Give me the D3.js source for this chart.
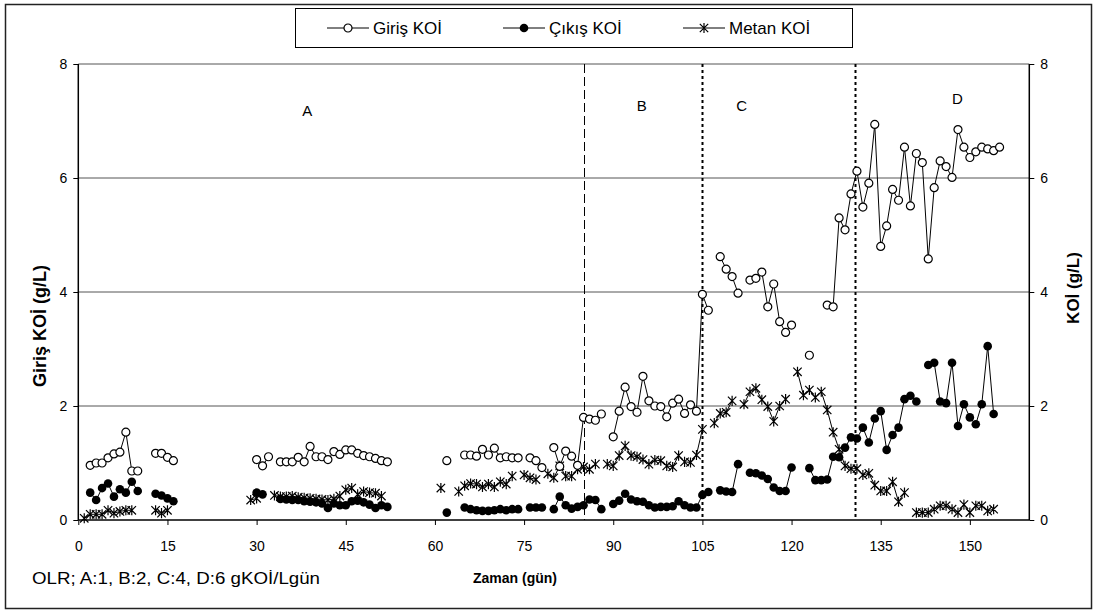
<!DOCTYPE html>
<html>
<head>
<meta charset="utf-8">
<script src="https://cdn.jsdelivr.net/npm/d3@7"></script>
<style>
  body { margin: 0; background: #fff; }
  svg { display: block; font-family: "Liberation Sans", Arial, sans-serif; }
</style>
</head>
<body>
<svg id="chart" width="1097" height="613"></svg>
<script>
// Influent COD per day [day, g/L]
const girisKOI = [
  [2,0.96],[3,1.0],[4,1.0],[5,1.09],[6,1.16],[7,1.19],[8,1.54],[9,0.86],[10,0.86],
  [13,1.17],[14,1.17],[15,1.10],[16,1.04],
  [30,1.06],[31,0.95],[32,1.11],[34,1.02],[35,1.02],[36,1.02],[37,1.10],[38,1.02],[39,1.29],[40,1.11],
  [41,1.11],[42,1.06],[43,1.20],[44,1.15],[45,1.23],[46,1.23],[47,1.17],[48,1.13],[49,1.11],[50,1.08],
  [51,1.04],[52,1.02],
  [62,1.04],[65,1.14],[66,1.14],[67,1.12],[68,1.24],[69,1.14],[70,1.26],[71,1.09],[72,1.11],[73,1.09],
  [74,1.09],[76,1.09],[77,1.04],[78,0.92],[80,1.27],[81,0.94],[82,1.21],[83,1.12],[84,0.96],[85,1.80],
  [86,1.77],[87,1.75],[88,1.86],
  [90,1.46],[91,1.91],[92,2.33],[93,1.99],[94,1.89],[95,2.52],[96,2.09],[97,2.0],[98,1.99],[99,1.81],
  [100,2.05],[101,2.12],[102,1.87],[103,2.02],[104,1.91],[105,3.96],[106,3.68],
  [108,4.62],[109,4.40],[110,4.27],[111,3.98],[113,4.21],[114,4.24],[115,4.35],[116,3.74],[117,4.14],
  [118,3.48],[119,3.29],[120,3.42],
  [123,2.89],[126,3.77],[127,3.74],[128,5.30],[129,5.09],[130,5.72],[131,6.12],[132,5.49],[133,5.91],
  [134,6.94],[135,4.80],[136,5.16],[137,5.80],[138,5.61],[139,6.54],[140,5.51],[141,6.43],[142,6.27],
  [143,4.58],[144,5.83],[145,6.30],[146,6.20],[147,6.01],[148,6.85],[149,6.54],[150,6.36],[151,6.46],
  [152,6.54],[153,6.51],[154,6.48],[155,6.54]
];

// Effluent COD per day [day, g/L]
const cikisKOI = [
  [2,0.48],[3,0.35],[4,0.56],[5,0.64],[6,0.41],[7,0.54],[8,0.48],[9,0.67],[10,0.51],
  [13,0.46],[14,0.43],[15,0.38],[16,0.33],
  [30,0.48],[31,0.45],
  [34,0.37],[35,0.36],[36,0.35],[37,0.35],[38,0.33],[39,0.32],[40,0.31],[41,0.29],[42,0.21],[43,0.29],
  [44,0.26],[45,0.26],[46,0.33],[47,0.34],[48,0.31],[49,0.27],[50,0.21],[51,0.26],[52,0.23],
  [62,0.13],[65,0.22],[66,0.19],[67,0.17],[68,0.16],[69,0.16],[70,0.17],[71,0.19],[72,0.17],[73,0.19],
  [74,0.19],[76,0.22],[77,0.22],[78,0.22],[80,0.19],[81,0.41],[82,0.26],[83,0.20],[84,0.23],[85,0.26],
  [86,0.36],[87,0.35],[88,0.19],
  [90,0.28],[91,0.34],[92,0.46],[93,0.36],[94,0.33],[95,0.32],[96,0.26],[97,0.22],[98,0.23],[99,0.23],
  [100,0.24],[101,0.33],[102,0.26],[103,0.22],[104,0.22],[105,0.44],[106,0.49],
  [108,0.52],[109,0.50],[110,0.49],[111,0.98],[113,0.83],[114,0.82],[115,0.78],[116,0.72],[117,0.57],
  [118,0.51],[119,0.51],[120,0.92],
  [123,0.91],[124,0.70],[125,0.70],[126,0.71],[127,1.11],[128,1.10],[129,1.27],[130,1.45],[131,1.43],
  [132,1.62],[133,1.36],[134,1.78],[135,1.91],[136,1.23],[137,1.49],[138,1.62],[139,2.12],[140,2.18],
  [141,2.08],[143,2.72],[144,2.76],[145,2.08],[146,2.05],[147,2.76],[148,1.65],[149,2.03],[150,1.80],
  [151,1.68],[152,2.03],[153,3.05],[154,1.86]
];

// Methane-equivalent COD per day [day, g/L]
const metanKOI = [
  [1,0.03],[2,0.10],[3,0.10],[4,0.10],[5,0.17],[6,0.12],[7,0.15],[8,0.17],[9,0.17],
  [13,0.17],[14,0.12],[15,0.17],
  [29,0.35],[30,0.38],[33,0.43],[34,0.41],[35,0.41],[36,0.42],[37,0.40],[38,0.39],[39,0.38],[40,0.37],
  [41,0.36],[42,0.35],[43,0.37],[44,0.42],[45,0.53],[46,0.56],[47,0.45],[48,0.50],[49,0.48],[50,0.47],
  [51,0.42],
  [61,0.56],[64,0.50],[65,0.60],[66,0.64],[67,0.63],[68,0.58],[69,0.63],[70,0.58],[71,0.67],[72,0.63],
  [73,0.77],[75,0.79],[76,0.74],[77,0.71],[79,0.81],[80,0.74],[81,0.95],[82,0.77],[83,0.77],[84,0.89],
  [85,0.93],[86,0.89],[87,0.98],[89,0.98],[90,0.95],[91,1.13],[92,1.30],[93,1.13],[94,1.11],[95,1.06],
  [96,0.98],[97,1.05],[98,1.04],[99,0.95],[100,0.93],[101,1.13],[102,1.02],[103,1.01],[104,1.14],
  [105,1.59],[107,1.70],[108,1.87],[109,1.89],[110,2.09],[112,2.03],[113,2.25],[114,2.31],[115,2.11],
  [116,1.99],[117,1.73],[118,2.0],[119,2.12],[121,2.60],[122,2.19],[123,2.28],[124,2.15],[125,2.25],
  [126,1.93],[127,1.54],[128,1.24],[129,0.95],[130,0.90],[131,0.90],[132,0.79],[133,0.82],[134,0.61],
  [135,0.51],[136,0.51],[137,0.67],[138,0.32],[139,0.48],[141,0.13],[142,0.13],[143,0.13],[144,0.19],
  [145,0.25],[146,0.25],[147,0.19],[148,0.13],[149,0.27],[150,0.13],[151,0.25],[152,0.25],[153,0.16],
  [154,0.19]
];

const xTicks = [0, 15, 30, 45, 60, 75, 90, 105, 120, 135, 150];
const yTicks = [0, 2, 4, 6, 8];
const periodBounds = [85, 105, 130.6];          // day where each loading period starts
const periodLabels = [["A", 38.5, 7.18], ["B", 94.8, 7.27], ["C", 111.6, 7.27], ["D", 147.9, 7.39]];
const seriesNames = ["Giriş KOİ", "Çıkış KOİ", "Metan KOİ"];

const svg = d3.select("#chart");

const x = d3.scaleLinear().domain([0, 160]).range([78.3, 1029.3]);
const y = d3.scaleLinear().domain([0, 8]).range([520, 64]);

// outer frame
svg.append("rect").attr("x", 5.5).attr("y", 4.5).attr("width", 1086).attr("height", 604)
  .attr("fill", "none").attr("stroke", "#222").attr("stroke-width", 1.5);

// horizontal gridlines
svg.append("g").selectAll("line").data(yTicks.filter(d => d > 0)).join("line")
  .attr("x1", x(0)).attr("x2", x(160))
  .attr("y1", d => y(d)).attr("y2", d => y(d))
  .attr("stroke", "#555").attr("stroke-width", 1);

// period separators
svg.append("g").selectAll("line").data(periodBounds).join("line")
  .attr("x1", d => Math.round(x(d)) + 0.5).attr("x2", d => Math.round(x(d)) + 0.5)
  .attr("y1", y(8)).attr("y2", y(0))
  .attr("stroke", "#000")
  .attr("stroke-width", (d, i) => i === 0 ? 1 : 2)
  .attr("stroke-dasharray", (d, i) => i === 0 ? "9,4" : "3,3");

// axes
const fontSize = 14;
const gLeft = svg.append("g").attr("transform", `translate(${x(0)},0)`)
  .call(d3.axisLeft(y).tickValues(yTicks).tickSize(5).tickPadding(6).tickFormat(d3.format("d")));
const gRight = svg.append("g").attr("transform", `translate(${x(160)},0)`)
  .call(d3.axisRight(y).tickValues(yTicks).tickSize(5).tickPadding(6).tickFormat(d3.format("d")));
const gBottom = svg.append("g").attr("transform", `translate(0,${y(0)})`)
  .call(d3.axisBottom(x).tickValues(xTicks).tickSize(5).tickPadding(16).tickFormat(d3.format("d")));
[gLeft, gRight, gBottom].forEach(g => {
  g.selectAll("path.domain").attr("stroke", "#000").attr("stroke-width", 1.5);
  g.selectAll(".tick line").attr("stroke", "#000");
  g.selectAll(".tick text").attr("font-size", fontSize).attr("font-family", "Liberation Sans, Arial, sans-serif").attr("fill", "#000");
});
gLeft.select("path.domain").attr("d", `M0,${y(0)}V${y(8)}`);
gRight.select("path.domain").attr("d", `M0,${y(0)}V${y(8)}`);
gBottom.select("path.domain").attr("d", `M${x(0)},0H${x(160)}`);

// line generator that breaks wherever a day is missing
function segments(data) {
  const out = [];
  let cur = [];
  data.forEach((p, i) => {
    if (i > 0 && p[0] - data[i - 1][0] > 1) { out.push(cur); cur = []; }
    cur.push(p);
  });
  out.push(cur);
  return out.filter(s => s.length > 1);
}
const line = d3.line().x(d => x(d[0])).y(d => y(d[1]));

const series = [girisKOI, cikisKOI, metanKOI];
series.forEach(data => {
  svg.append("g").selectAll("path").data(segments(data)).join("path")
    .attr("d", line).attr("fill", "none").attr("stroke", "#000").attr("stroke-width", 1);
});

// markers
const starPath = s => `M${-s},${-s}L${s},${s}M${-s},${s}L${s},${-s}M0,${-s * 1.2}L0,${s * 1.2}`;

function drawMarker(g, kind) {
  if (kind === 0) {
    g.append("circle").attr("r", 4).attr("fill", "#fff").attr("stroke", "#000").attr("stroke-width", 1.2);
  } else if (kind === 1) {
    g.append("circle").attr("r", 4.3).attr("fill", "#000");
  } else {
    g.append("path").attr("d", starPath(4.2)).attr("stroke", "#000").attr("stroke-width", 1.2).attr("fill", "none");
  }
}

[metanKOI, cikisKOI, girisKOI].forEach(data => {
  const kind = series.indexOf(data);
  svg.append("g").selectAll("g").data(data).join("g")
    .attr("transform", d => `translate(${x(d[0])},${y(d[1])})`)
    .each(function () { drawMarker(d3.select(this), kind); });
});

// period labels
periodLabels.forEach(([t, d, v]) => {
  if (t === "D") {
    svg.append("rect").attr("x", x(d) - 13).attr("y", y(v) - 13).attr("width", 26).attr("height", 24).attr("fill", "#fff");
  }
  svg.append("text").attr("x", x(d)).attr("y", y(v)).attr("text-anchor", "middle").attr("dy", "0.35em")
    .attr("font-size", 15).text(t);
});

// axis titles
svg.append("text").attr("transform", `translate(40,${(y(0) + y(8)) / 2 + 34}) rotate(-90)`)
  .attr("text-anchor", "middle").attr("dy", "0.35em").attr("font-size", 18).attr("font-weight", "bold")
  .text("Giriş KOİ (g/L)");
svg.append("text").attr("transform", `translate(1073,${(y(0) + y(8)) / 2 - 4}) rotate(-90)`)
  .attr("text-anchor", "middle").attr("dy", "0.35em").attr("font-size", 17).attr("font-weight", "bold")
  .text("KOİ (g/L)");
svg.append("text").attr("x", 515).attr("y", 578).attr("text-anchor", "middle").attr("dy", "0.35em")
  .attr("font-size", 14).attr("font-weight", "bold").text("Zaman (gün)");
svg.append("text").attr("x", 32).attr("y", 578).attr("dy", "0.35em")
  .attr("font-size", 17).attr("textLength", 288).attr("lengthAdjust", "spacingAndGlyphs")
  .text("OLR; A:1, B:2, C:4, D:6 gKOİ/Lgün");

// legend
const legend = svg.append("g");
legend.append("rect").attr("x", 295.5).attr("y", 8.5).attr("width", 557).attr("height", 39)
  .attr("fill", "#fff").attr("stroke", "#000").attr("stroke-width", 1);
const legendX = [327, 503, 683];
seriesNames.forEach((name, i) => {
  const g = legend.append("g").attr("transform", `translate(${legendX[i]},28)`);
  g.append("line").attr("x1", 0).attr("x2", 42).attr("stroke", "#000").attr("stroke-width", 1);
  const m = g.append("g").attr("transform", "translate(21,0)");
  drawMarker(m, i);
  g.append("text").attr("x", 46).attr("dy", "0.35em").attr("font-size", 17).text(name);
});
</script>
</body>
</html>
